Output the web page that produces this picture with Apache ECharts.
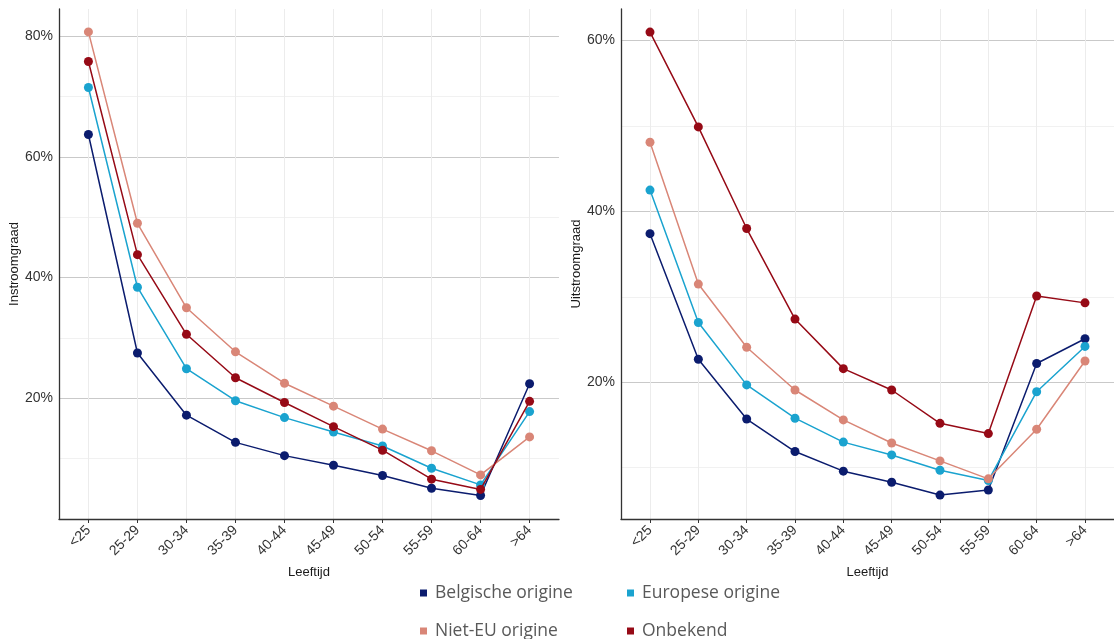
<!DOCTYPE html>
<html>
<head>
<meta charset="utf-8">
<script src="https://cdn.jsdelivr.net/npm/echarts@6/dist/echarts.min.js"></script>
<style>
html,body{margin:0;padding:0;background:#fff;}
#c{width:1114px;height:639px;}
</style>
</head>
<body>
<div id="c"></div>
<script>
// ---- data ----
const categories = ['<25','25-29','30-34','35-39','40-44','45-49','50-54','55-59','60-64','>64'];
const seriesNames = ['Belgische origine','Europese origine','Niet-EU origine','Onbekend'];
const seriesColors = ['#0b1c6e','#1aa3cf','#d98677','#960a16'];

// Instroomgraad (left panel)
const inBelgisch = [0.637,0.275,0.172,0.127,0.105,0.089,0.072,0.051,0.039,0.224];
const inEuropees = [0.715,0.384,0.249,0.196,0.168,0.144,0.121,0.084,0.0565,0.178];
const inNietEU   = [0.807,0.490,0.350,0.277,0.225,0.187,0.149,0.113,0.073,0.136];
const inOnbekend = [0.758,0.438,0.306,0.234,0.193,0.153,0.114,0.066,0.049,0.195];

// Uitstroomgraad (right panel)
const uitBelgisch = [0.374,0.227,0.157,0.119,0.096,0.083,0.068,0.074,0.222,0.251];
const uitEuropees = [0.425,0.270,0.197,0.158,0.130,0.115,0.097,0.085,0.189,0.242];
const uitNietEU   = [0.481,0.315,0.241,0.191,0.156,0.129,0.108,0.087,0.145,0.225];
const uitOnbekend = [0.610,0.499,0.380,0.274,0.216,0.191,0.152,0.140,0.301,0.293];

const yTicksLeft = [0.2,0.4,0.6,0.8];
const yTicksRight = [0.2,0.4,0.6];

// ---- chart ----
const inData = [inBelgisch,inEuropees,inNietEU,inOnbekend];
const uitData = [uitBelgisch,uitEuropees,uitNietEU,uitOnbekend];
const catIdx = categories.map((c,i)=>i);

const MAJOR = '#c9c9c9', MINOR = '#f1f1f1', T = 'rgba(0,0,0,0)';
const txt = '#333';
const font = 'Liberation Sans, Arial, sans-serif';

function yFmt(ticks){
  return function(v){
    for (const t of ticks){ if (Math.abs(v-t) < 1e-6) return Math.round(t*100)+'%'; }
    return '';
  };
}

function xAxis(gi){
  return {
    type:'value', gridIndex:gi, min:-0.6, max:categories.length-1+0.6,
    name:'Leeftijd', nameLocation:'middle', nameGap:47,
    nameTextStyle:{fontFamily:font,fontSize:13,color:'#1a1a1a'},
    axisLine:{show:true,onZero:false,lineStyle:{color:'#333',width:1.3}},
    axisTick:{show:true,length:4,lineStyle:{color:'#333',width:1},customValues:catIdx},
    axisLabel:{customValues:catIdx,rotate:45,margin:9,fontFamily:font,fontSize:14,color:txt,
      formatter:v=>categories[Math.round(v)]},
    splitLine:{show:true,lineStyle:{color:'#ececec',width:1}}
  };
}

function yAxis(gi,name,min,max,ticks,colors){
  return {
    type:'value', gridIndex:gi, min:min, max:max, interval:0.02,
    name:name, nameLocation:'middle', nameGap:37,
    nameTextStyle:{fontFamily:font,fontSize:13,color:'#1a1a1a'},
    axisLine:{show:true,onZero:false,lineStyle:{color:'#333',width:1.3}},
    axisTick:{show:false},
    axisLabel:{margin:6,fontFamily:font,fontSize:14,color:txt,formatter:yFmt(ticks)},
    splitLine:{show:true,lineStyle:{color:colors,width:1.2}}
  };
}

const series = [];
seriesNames.forEach((n,k)=>{
  series.push({
    name:n, type:'line', xAxisIndex:0, yAxisIndex:0,
    data:inData[k].map((v,i)=>[catIdx[i],v]),
    symbol:'circle', symbolSize:9, color:seriesColors[k],
    lineStyle:{width:1.5,color:seriesColors[k]}, itemStyle:{color:seriesColors[k]},
    emphasis:{disabled:true}, z:2+k
  });
  series.push({
    name:n, type:'line', xAxisIndex:1, yAxisIndex:1,
    data:uitData[k].map((v,i)=>[catIdx[i],v]),
    symbol:'circle', symbolSize:9, color:seriesColors[k],
    lineStyle:{width:1.5,color:seriesColors[k]}, itemStyle:{color:seriesColors[k]},
    emphasis:{disabled:true}, z:2+k
  });
});

const legendPos = [[420,584],[627,584],[420,622],[627,622]];
const legends = seriesNames.map((n,k)=>({
  data:[n], left:legendPos[k][0], top:legendPos[k][1], padding:0,
  icon:'rect', itemWidth:7, itemHeight:7, selectedMode:false,
  textStyle:{fontFamily:'Open Sans, sans-serif',fontSize:17.5,color:'#595959',padding:[0,0,0,3]}
}));

const leftColors = [MAJOR,T,T,T,T,MINOR,T,T,T,T];
const rightColors = [T,T,T,MINOR,T,T,T,T,MAJOR,T];

const chart = echarts.init(document.getElementById('c'),null,{renderer:'canvas'});
chart.setOption({
  animation:false,
  backgroundColor:'#fff',
  grid:[
    {left:59,top:9,width:500,height:510},
    {left:621,top:9,width:502,height:510}
  ],
  xAxis:[xAxis(0),xAxis(1)],
  yAxis:[
    yAxis(0,'Instroomgraad',0,0.845,yTicksLeft,leftColors),
    yAxis(1,'Uitstroomgraad',0.04,0.637,yTicksRight,rightColors)
  ],
  legend:legends,
  series:series
});
</script>
</body>
</html>
